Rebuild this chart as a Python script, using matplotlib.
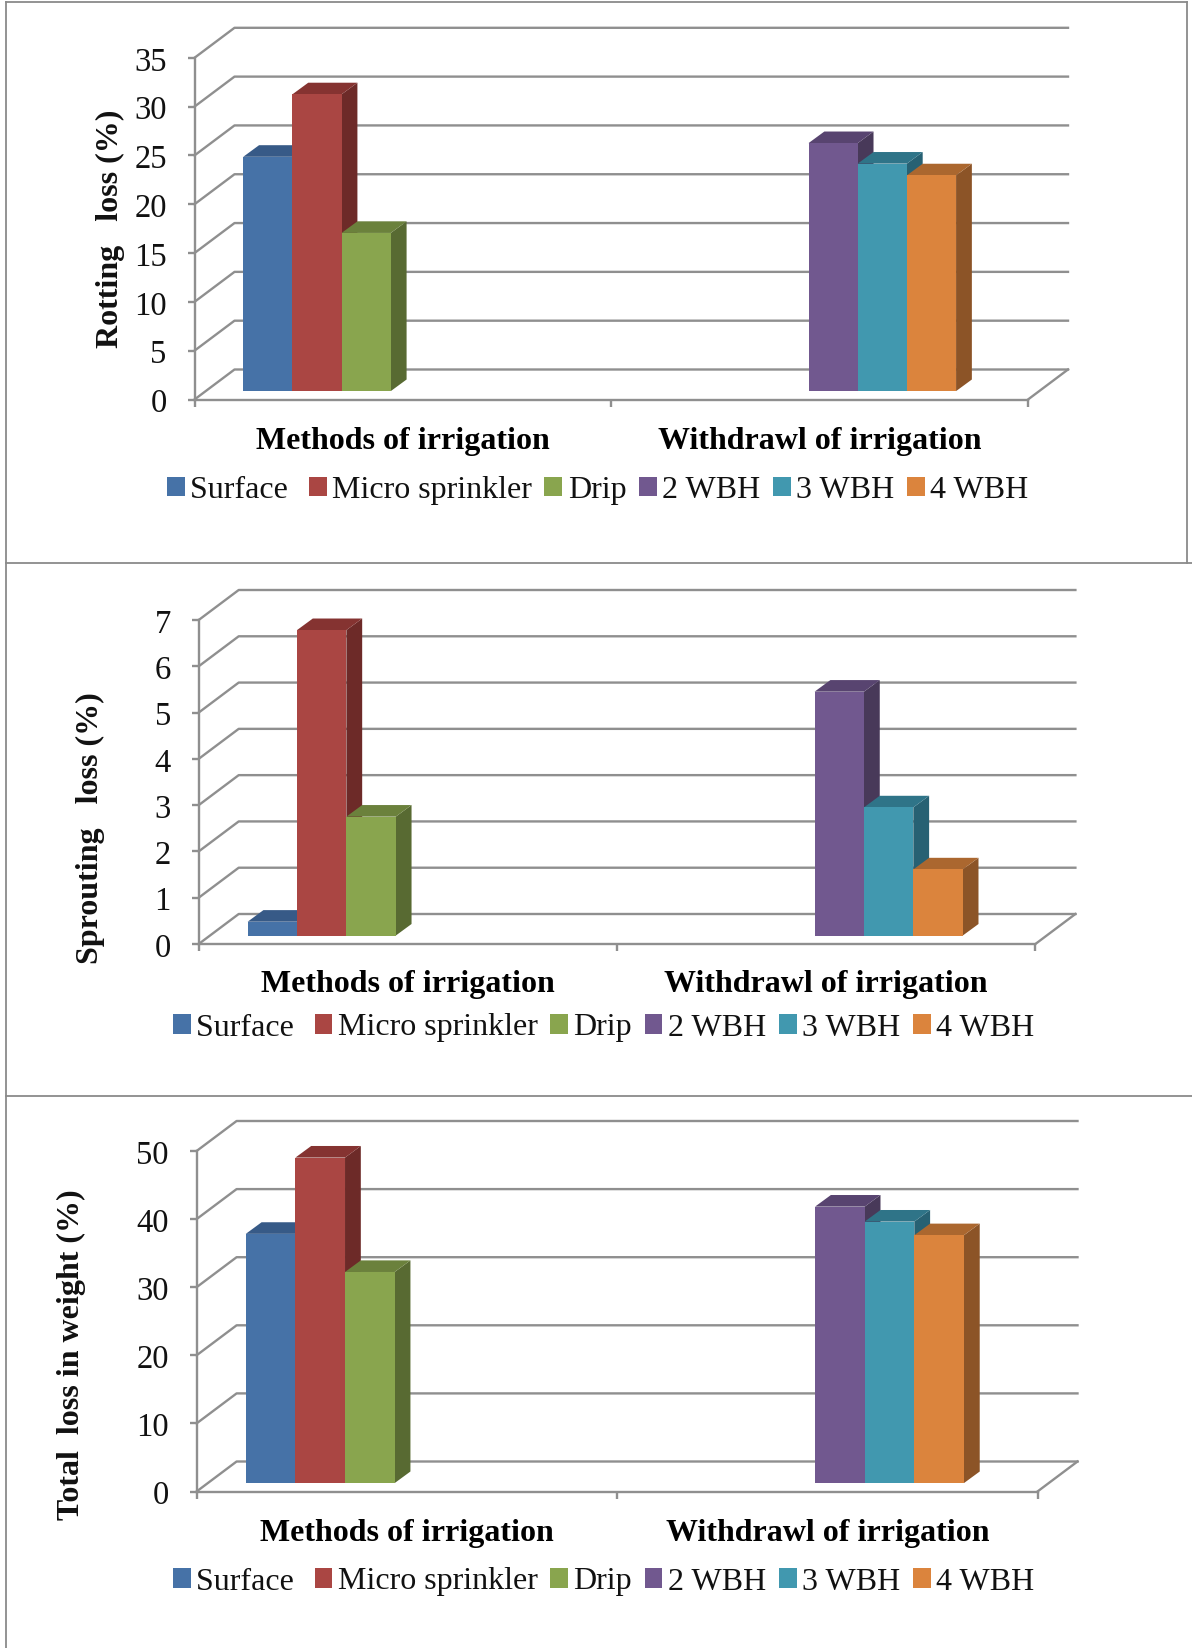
import matplotlib
matplotlib.use("Agg")
import matplotlib.pyplot as plt
from matplotlib.lines import Line2D
from matplotlib.patches import Polygon, Patch
from matplotlib.transforms import ScaledTranslation

plt.rcParams["font.family"] = ["Liberation Serif", "DejaVu Serif"]

W, H = 1192, 1648
GREY = "#8f8f8f"
FONT = 23

categories = ["Methods of irrigation", "Withdrawl of irrigation"]
series_names = ["Surface ", "Micro sprinkler", "Drip", "2 WBH", "3 WBH", "4 WBH"]
series_cat = [0, 0, 0, 1, 1, 1]

rotting = [24.0, 30.4, 16.2, 25.4, 23.3, 22.1]
sprouting = [0.3, 6.6, 2.57, 5.27, 2.77, 1.43]
total = [36.6, 47.8, 31.0, 40.6, 38.4, 36.4]

rotting_ticks = [0, 5, 10, 15, 20, 25, 30, 35]
sprouting_ticks = [0, 1, 2, 3, 4, 5, 6, 7]
total_ticks = [0, 10, 20, 30, 40, 50]

front = ["#4672a7", "#aa4643", "#89a54e", "#71588f", "#4198af", "#db843d"]
top = ["#375a87", "#853331", "#6b813c", "#584470", "#2f7488", "#ab672f"]
side = ["#2d4a6e", "#6d2a28", "#586a32", "#483959", "#276173", "#8c5427"]

BAR_START = 0.117
BAR_W = 0.118


def draw_panel(rect, values, ticks, ylabel, ylabel_x, ylabel_y, legend_y, group2_nudge, cat_pad):
    # rect = left, right, y of zero, y of top tick, in reference pixels
    x0, x1, y0, y1 = rect
    ax = fig.add_axes([x0 / W, 1 - y0 / H, (x1 - x0) / W, (y0 - y1) / H])
    ax.set_xlim(0, 2)
    ax.set_ylim(0, ticks[-1])
    ax.patch.set_alpha(0)

    px_x = 2 / (x1 - x0)
    px_y = ticks[-1] / (y0 - y1)
    wall_dx, wall_dy = 40 * px_x, 30 * px_y
    depth_dx, depth_dy = 15.8 * px_x, 11.6 * px_y
    lift = 8.4 * px_y

    # back wall and floor lines
    for t in ticks:
        ax.plot([0, wall_dx, 2 + wall_dx], [t, t + wall_dy, t + wall_dy],
                color=GREY, lw=1.7, clip_on=False, zorder=1)
    ax.plot([2, 2 + wall_dx], [0, wall_dy], color=GREY, lw=1.7, clip_on=False, zorder=1)

    for i, v in enumerate(values):
        x = series_cat[i] + BAR_START + i * BAR_W
        if series_cat[i] == 1:
            x += group2_nudge * px_x
        z = 2 + i
        ax.add_patch(Polygon(
            [(x + BAR_W, lift), (x + BAR_W + depth_dx, lift + depth_dy),
             (x + BAR_W + depth_dx, lift + v + depth_dy), (x + BAR_W, lift + v)],
            facecolor=side[i], edgecolor="none", clip_on=False, zorder=z))
        ax.add_patch(Polygon(
            [(x, lift + v), (x + depth_dx, lift + v + depth_dy),
             (x + BAR_W + depth_dx, lift + v + depth_dy), (x + BAR_W, lift + v)],
            facecolor=top[i], edgecolor="none", clip_on=False, zorder=z))
        ax.bar(x, v, BAR_W, bottom=lift, align="edge", color=front[i], clip_on=False, zorder=z)

    for s in ["top", "right"]:
        ax.spines[s].set_visible(False)
    for s in ["left", "bottom"]:
        ax.spines[s].set_color(GREY)
        ax.spines[s].set_linewidth(1.7)

    ax.set_yticks(ticks)
    ax.tick_params(axis="y", length=5, width=1.7, color=GREY, pad=15, labelsize=FONT + 0.5, labelcolor="#111111")
    # the digits sit a little lower than matplotlib centres them
    for lbl in ax.get_yticklabels():
        lbl.set_transform(lbl.get_transform() + ScaledTranslation(0, -0.7 / 72, fig.dpi_scale_trans))
    ax.set_xticks([0, 1, 2])
    ax.set_xticklabels([])
    ax.tick_params(axis="x", length=5, width=1.7, color=GREY)
    ax.set_xticks([0.5, 1.5], minor=True)
    ax.set_xticklabels(categories, minor=True, fontweight="bold", fontsize=FONT)
    ax.tick_params(axis="x", which="minor", length=0, pad=cat_pad)

    fig.text(ylabel_x / W, 1 - ylabel_y / H, ylabel, rotation=90, fontweight="bold",
             fontsize=FONT, ha="center", va="center", color="#111111")

    handles = [Patch(facecolor=c, edgecolor="none") for c in front]
    ax.legend(handles, series_names, ncol=6, frameon=False, fontsize=FONT,
              loc="center", bbox_to_anchor=(0.5 - 13.5 / (x1 - x0), 1 - (legend_y - y1) / (y0 - y1)),
              handlelength=0.56, handleheight=0.56, handletextpad=0.17, columnspacing=0.39,
              labelcolor="#111111", borderpad=0, borderaxespad=0)


fig = plt.figure(figsize=(W / 100, H / 100), dpi=100, facecolor="white")

draw_panel((194.5, 1028, 399.5, 57.8), rotting, rotting_ticks, "Rotting   loss (%)", 110, 229, 490.5, 1, 19.5)
draw_panel((198.7, 1035.4, 944, 620), sprouting, sprouting_ticks, "Sprouting   loss (%)", 90, 828, 1028, 0.5, 19)
draw_panel((196.6, 1037.5, 1491.5, 1151), total, total_ticks, "Total  loss in weight (%)", 71, 1355, 1582, 0, 19.5)

# frame lines around the panels
frame = [
    ((6, 6), (2, 1648)),
    ((6, 1187), (2, 2)),
    ((1187, 1187), (2, 563)),
    ((6, 1192), (563, 563)),
    ((6, 1192), (1096, 1096)),
]
for xs, ys in frame:
    fig.add_artist(Line2D([x / W for x in xs], [1 - y / H for y in ys], color="#8a8a8a", lw=1.3))

fig.savefig("out.png", dpi=100, facecolor="white")
